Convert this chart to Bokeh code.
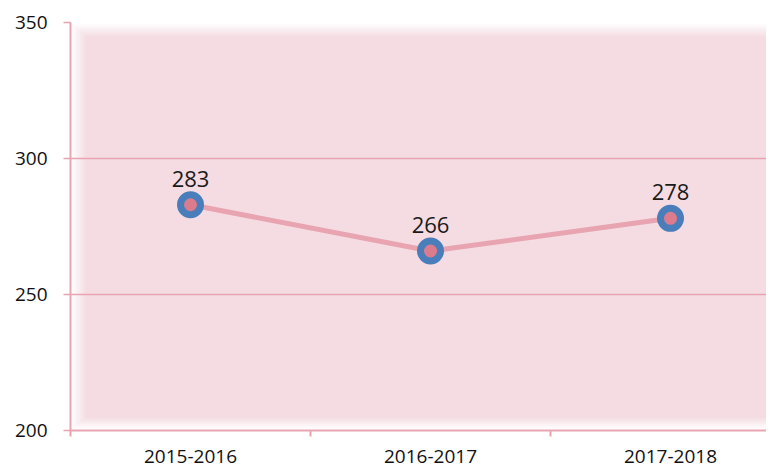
from bokeh.plotting import figure
from bokeh.models import ColumnDataSource, FixedTicker, Range1d
from bokeh.core.properties import value
from bokeh.embed import file_html
from bokeh.resources import INLINE

# ---- data ----
seasons = ["2015-2016", "2016-2017", "2017-2018"]
counts = [283, 266, 278]
y_ticks = [200, 250, 300, 350]
y_min, y_max = 200, 350

xpos = [i + 0.5 for i in range(len(seasons))]
x_max = 2.9

PINK_LINE = "#e8a4b1"
BG = "#f4dce2"

p = figure(width=766, height=468, x_range=Range1d(0, x_max),
           y_range=Range1d(y_min, y_max),
           output_backend="svg", toolbar_location=None,
           min_border_left=70, min_border_right=0,
           min_border_top=22, min_border_bottom=38)

p.background_fill_color = "white"
p.border_fill_color = "white"
p.outline_line_color = None

# soft inner-shadow background made of layered translucent rectangles
frame_w_px, frame_h_px = 696.0, 408.0
xu = x_max / frame_w_px
yu = (y_max - y_min) / frame_h_px
n = 6
for k in range(n):
    f = k / (n - 1)
    left = (2 + 13 * f) * xu
    top = (2 + 12 * f) * yu
    bot = (2 + 11 * f) * yu
    p.quad(left=left, right=x_max, bottom=y_min + bot, top=y_max - top,
           fill_color=BG, fill_alpha=1.0 / (n - k), line_color=None, level="image")

src = ColumnDataSource(dict(x=xpos, y=counts, lbl=[str(c) for c in counts]))

p.line("x", "y", source=src, line_color=PINK_LINE, line_width=5)
p.scatter("x", "y", source=src, size=20, fill_color="#dc7b8c",
          line_color="#4a7ebb", line_width=7)
p.text("x", "y", text="lbl", source=src, text_align="center",
       text_baseline="alphabetic", y_offset=-26,
       text_font=value("Open Sans"), text_font_size="22px", text_color="#1a1a1a")

# axes
p.xaxis.ticker = FixedTicker(ticks=xpos, minor_ticks=[0, 1, 2])
p.xaxis.major_label_overrides = {x: s for x, s in zip(xpos, seasons)}
p.xaxis.major_tick_out = 0
p.xaxis.major_tick_in = 0
p.xaxis.minor_tick_out = 6
p.xaxis.minor_tick_in = 0
p.xaxis.minor_tick_line_color = PINK_LINE
p.xaxis.minor_tick_line_width = 2
p.xaxis.major_label_standoff = 13

p.yaxis.ticker = FixedTicker(ticks=y_ticks)
p.yaxis.minor_tick_line_color = None
p.yaxis.major_tick_out = 7
p.yaxis.major_tick_in = 0
p.yaxis.major_tick_line_color = PINK_LINE
p.yaxis.major_tick_line_width = 1.5
p.yaxis.major_label_standoff = 16

for ax in (p.xaxis, p.yaxis):
    ax.axis_line_color = PINK_LINE
    ax.axis_line_width = 2
    ax.major_label_text_font = "Open Sans"
    ax.major_label_text_font_size = "19px"
    ax.major_label_text_color = "#111111"

p.xgrid.grid_line_color = None
p.ygrid.ticker = FixedTicker(ticks=y_ticks)
p.ygrid.grid_line_color = PINK_LINE
p.ygrid.grid_line_width = 1.5

open("out.html", "w").write(file_html(p, INLINE))
